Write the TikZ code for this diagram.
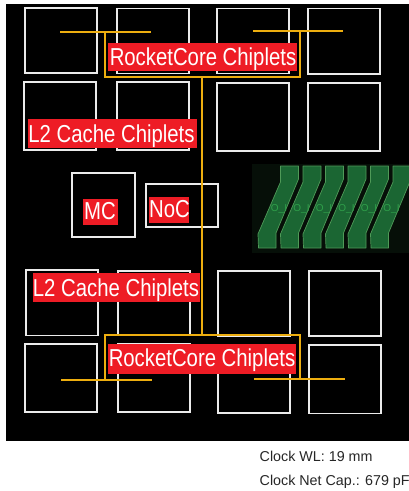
\documentclass[tikz,border=0pt]{standalone}
\usepackage{fontspec}
\setmainfont{Liberation Sans}
\definecolor{clk}{HTML}{EDAE0F}
\definecolor{lab}{HTML}{EE1C25}
\definecolor{gfill}{HTML}{1B6633}
\definecolor{gedge}{HTML}{4F9A58}
\definecolor{gtext}{HTML}{2FA04A}
\definecolor{gbg}{HTML}{060F08}
\tikzset{
  chip/.style={draw=white!92!black,line width=1.2pt},
  clock/.style={draw=clk,line width=2pt},
  redlab/.style={text=white,inner sep=0pt,anchor=base,font=\fontsize{24.5}{25}\selectfont},
  pad/.style={fill=gfill,draw=gedge,line width=0.7pt,line join=round},
  iotext/.style={inner sep=0pt,text=gtext,anchor=base,font=\fontsize{10}{10}\selectfont},
  note/.style={anchor=base west,inner sep=0pt,text=black!85,font=\fontsize{14.3}{16}\selectfont},
}
\begin{document}
\begin{tikzpicture}[x=1pt,y=-1pt]
\useasboundingbox (0,0) rectangle (409,491);
\fill[white] (0,0) rectangle (409,491);
\fill[black] (6,4) rectangle (409,441);
% row 1
\draw[chip] (25,8) rectangle (97,73);
\draw[chip] (117,8.5) rectangle (189,73.5);
\draw[chip] (217,8.5) rectangle (289,73.5);
\draw[chip] (308,8.5) rectangle (380,74);
% row 2
\draw[chip] (24,82) rectangle (96,150);
\draw[chip] (117,82) rectangle (189,150);
\draw[chip] (217,83) rectangle (289,151);
\draw[chip] (308,83) rectangle (380,151);
% middle
\draw[chip] (72,173) rectangle (135,237);
\draw[chip] (146,184) rectangle (218,227);
% row 3
\draw[chip] (26,270) rectangle (98,335.5);
\draw[chip] (118,271) rectangle (190,335.5);
\draw[chip] (218,271) rectangle (290,336);
\draw[chip] (309,271) rectangle (381,336);
% row 4
\draw[chip] (25,344) rectangle (97,412);
\draw[chip] (118,344) rectangle (190,412);
\draw[chip] (218,345) rectangle (290,413);
\draw[chip] (309,345) rectangle (381,413.5);
% green pads
\fill[gbg] (252,164) rectangle (409,253);
\begin{scope}
\clip (252,164) rectangle (409,253);
\foreach \i in {0,...,5}{
  \begin{scope}[xshift=22.5*\i]
  \draw[pad] (280.5,166) -- (298.5,166) -- (298.5,179) -- (276,233) -- (276,248) -- (258.5,248) -- (258,234) -- (280.5,182) -- cycle;
  \end{scope}
}
\foreach \i in {0,...,5}{
  \begin{scope}[xshift=22.5*\i]
  \node[iotext] (iolab\i) at (279,211) {O\_I};
  \end{scope}
}
\end{scope}
% clock tree
\coordinate (tl) at (105,76.5);
\coordinate (tr) at (300,76.5);
\coordinate (bl) at (105,334.5);
\coordinate (br) at (300,334.5);
\coordinate (tm) at (202,76.5);
\coordinate (bm) at (202,334.5);
\draw[clock] (60,32) -- (151,32);
\draw[clock] (253,31) -- (343,31);
\draw[clock] (105,32) -- (tl) -- (tr) -- (300,31);
\draw[clock] (tm) -- (bm);
\draw[clock] (105,379.5) -- (bl) -- (br) -- (300,378.5);
\draw[clock] (61,379.5) -- (152,379.5);
\draw[clock] (254,378.5) -- (345,378.5);
% labels
\fill[lab] (108,43) rectangle (297,71);
\node[redlab] (rc1) at (203,65.7) {\scalebox{0.83}[1]{RocketCore Chiplets}};
\fill[lab] (28,119) rectangle (197,148);
\node[redlab] (l21) at (111.5,142.7) {\scalebox{0.83}[1]{L2 Cache Chiplets}};
\fill[lab] (83,199) rectangle (118,225);
\node[redlab] (mc) at (100,219.3) {\scalebox{0.83}[1]{MC}};
\fill[lab] (149,197) rectangle (189,223);
\node[redlab] (noc) at (169.5,217.5) {\scalebox{0.83}[1]{NoC}};
\fill[lab] (33,273) rectangle (200,302);
\node[redlab] (l22) at (116,296.7) {\scalebox{0.83}[1]{L2 Cache Chiplets}};
\fill[lab] (108,344) rectangle (296,374);
\node[redlab] (rc2) at (202,366) {\scalebox{0.83}[1]{RocketCore Chiplets}};
% notes
\node[note] (wl) at (259.5,461.5) {Clock WL: 19 mm};
\node[note] (cap) at (259.5,485.5) {Clock Net Cap.: 679 pF};
\end{tikzpicture}
\end{document}
